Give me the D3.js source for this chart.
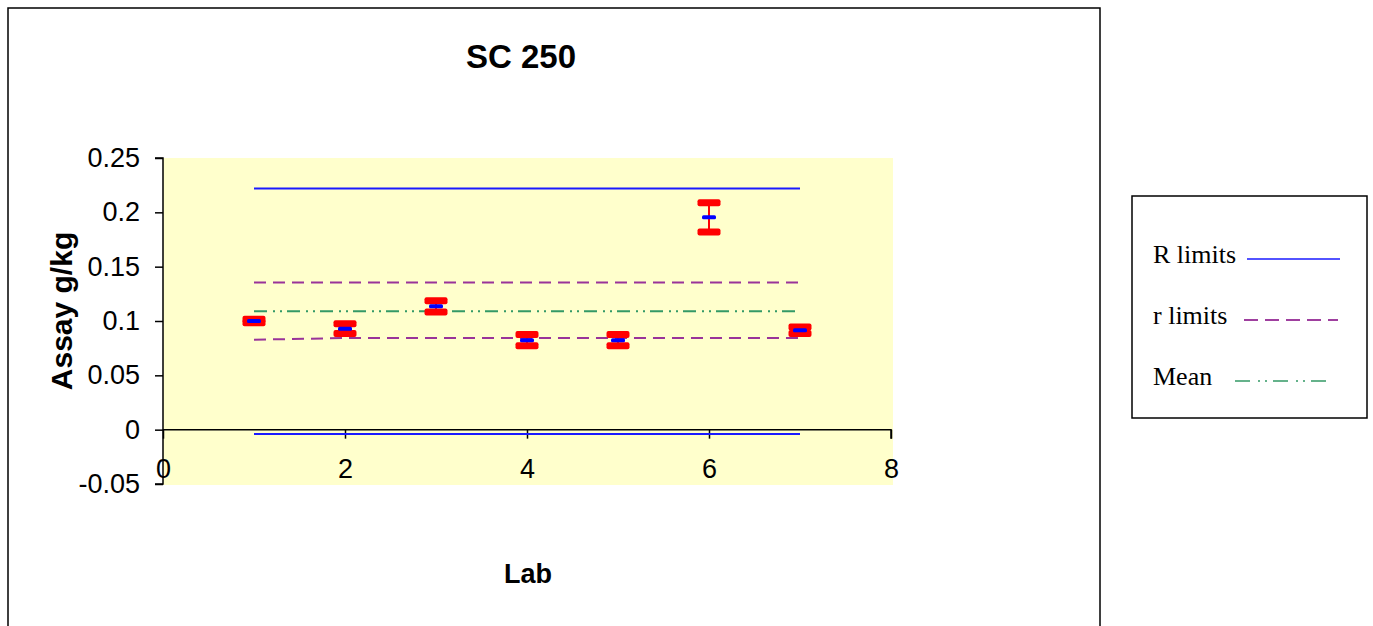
<!DOCTYPE html>
<html>
<head>
<meta charset="utf-8">
<script src="https://cdn.jsdelivr.net/npm/d3@7"></script>
<style>
  body { margin: 0; background: #fff; }
  svg { display: block; }
</style>
</head>
<body>
<div id="chart"></div>
<script>
// data
var labs = [1, 2, 3, 4, 5, 6, 7];
var assayMean = [0.1000, 0.0929, 0.1135, 0.0824, 0.0824, 0.1954, 0.0914];
var assayErr = [0.0015, 0.0045, 0.0052, 0.0051, 0.0051, 0.0134, 0.0030];
var RUpper = [0.222, 0.222, 0.222, 0.222, 0.222, 0.222, 0.222];
var RLower = [-0.004, -0.004, -0.004, -0.004, -0.004, -0.004, -0.004];
var rUpper = [0.1355, 0.1355, 0.1355, 0.1355, 0.1355, 0.1355, 0.1355];
var rLower = [0.0828, 0.0843, 0.0843, 0.0843, 0.0843, 0.0843, 0.0843];
var meanLine = [0.109, 0.109, 0.109, 0.109, 0.109, 0.109, 0.109];
var xTicks = [0, 2, 4, 6, 8];
var yTicks = [-0.05, 0, 0.05, 0.1, 0.15, 0.2, 0.25];
var yTickLabels = ["-0.05", "0", "0.05", "0.1", "0.15", "0.2", "0.25"];
var legendItems = ["R limits", "r limits", "Mean"];

var W = 1373, H = 626;
var svg = d3.select("#chart").append("svg")
            .attr("width", W)
            .attr("height", H);

// chart frame
svg.append("rect")
   .attr("x", 8).attr("y", 8)
   .attr("width", 1092).attr("height", 640)
   .attr("fill", "#fff")
   .attr("stroke", "#000")
   .attr("stroke-width", 1.5);

var x = d3.scaleLinear().domain([0, 8]).range([163, 891]);
var y = d3.scaleLinear().domain([-0.05, 0.25]).range([484, 158]);

// plot area
svg.append("rect")
   .attr("x", x(0)).attr("y", y(0.25))
   .attr("width", x(8) - x(0) + 2)
   .attr("height", y(-0.05) - y(0.25) + 1)
   .attr("fill", "#ffffcc");

// y axis
var yAxis = svg.append("g")
   .attr("transform", "translate(" + x(0) + ",0)")
   .call(d3.axisLeft(y).tickValues(yTicks).tickSize(8).tickPadding(15)
           .tickFormat(function (d, i) { return yTickLabels[i]; }));

// x axis at y = 0
var xAxis = svg.append("g")
   .attr("transform", "translate(0," + y(0) + ")")
   .call(d3.axisBottom(x).tickValues(xTicks).tickSize(9).tickFormat(d3.format("d")));

[yAxis, xAxis].forEach(function (g) {
  g.select(".domain").attr("stroke", "#000").attr("stroke-width", 1.5);
  g.selectAll(".tick line").attr("stroke", "#000").attr("stroke-width", 1.5);
  g.selectAll(".tick text")
   .attr("font-family", "Liberation Sans, Arial, sans-serif")
   .attr("font-size", "27px")
   .attr("fill", "#000");
});
yAxis.select(".domain").attr("d", "M-8," + y(0.25) + "H0V" + y(-0.05) + "H-8");
xAxis.select(".domain").attr("d", "M" + x(0) + ",0H" + x(8) + "V9");
xAxis.selectAll(".tick text").attr("y", 29).attr("dy", "0.71em");

// reference lines
function refLine(vals, color, dash) {
  var line = d3.line()
               .x(function (d, i) { return x(labs[i]); })
               .y(function (d) { return y(d); });
  svg.append("path")
     .datum(vals)
     .attr("d", line)
     .attr("fill", "none")
     .attr("stroke", color)
     .attr("stroke-width", 2)
     .attr("stroke-dasharray", dash);
}
refLine(RUpper, "#1a1aff", null);
refLine(RLower, "#1a1aff", null);
refLine(rUpper, "#993399", "12,7");
refLine(rLower, "#993399", "12,7");
refLine(meanLine, "#339966", "13,6,2,5,2,5");

// error bars
var bars = svg.selectAll("g.bar")
   .data(labs)
   .enter()
   .append("g")
   .attr("class", "bar");

bars.append("line")
   .attr("x1", function (d) { return x(d); })
   .attr("x2", function (d) { return x(d); })
   .attr("y1", function (d, i) { return y(assayMean[i] + assayErr[i]); })
   .attr("y2", function (d, i) { return y(assayMean[i] - assayErr[i]); })
   .attr("stroke", "#ff0000")
   .attr("stroke-width", 2);

[1, -1].forEach(function (s) {
  bars.append("rect")
     .attr("x", function (d) { return x(d) - 11.5; })
     .attr("y", function (d, i) { return y(assayMean[i] + s * assayErr[i]) - 3.5; })
     .attr("width", 23)
     .attr("height", 7)
     .attr("rx", 2)
     .attr("fill", "#ff0000");
});

bars.append("rect")
   .attr("x", function (d) { return x(d) - 7; })
   .attr("y", function (d, i) { return y(assayMean[i]) - 2; })
   .attr("width", 14)
   .attr("height", 4)
   .attr("rx", 1.5)
   .attr("fill", "#0000ff");

// titles
svg.append("text")
   .attr("x", 521).attr("y", 68)
   .attr("text-anchor", "middle")
   .attr("font-family", "Liberation Sans, Arial, sans-serif")
   .attr("font-weight", "bold")
   .attr("font-size", "33px")
   .text("SC 250");

svg.append("text")
   .attr("x", 528).attr("y", 583)
   .attr("text-anchor", "middle")
   .attr("font-family", "Liberation Sans, Arial, sans-serif")
   .attr("font-weight", "bold")
   .attr("font-size", "27px")
   .text("Lab");

svg.append("text")
   .attr("transform", "translate(72,311) rotate(-90)")
   .attr("text-anchor", "middle")
   .attr("font-family", "Liberation Sans, Arial, sans-serif")
   .attr("font-weight", "bold")
   .attr("font-size", "30px")
   .text("Assay g/kg");

// legend
var legend = svg.append("g");
legend.append("rect")
   .attr("x", 1132).attr("y", 196)
   .attr("width", 235).attr("height", 222)
   .attr("fill", "#fff")
   .attr("stroke", "#000")
   .attr("stroke-width", 1.5);

var legendStyle = [
  {color: "#1a1aff", dash: null, x1: 1247, x2: 1340},
  {color: "#800080", dash: "14,7", x1: 1244, x2: 1338},
  {color: "#339966", dash: "15,8,2,5,2,6", x1: 1235, x2: 1326}
];

legendItems.forEach(function (name, i) {
  var yy = 263 + i * 61;
  legend.append("text")
     .attr("x", 1153).attr("y", yy)
     .attr("font-family", "Liberation Serif, Times New Roman, serif")
     .attr("font-size", "26px")
     .attr("fill", "#000")
     .text(name);
  legend.append("line")
     .attr("x1", legendStyle[i].x1).attr("x2", legendStyle[i].x2)
     .attr("y1", yy - 4).attr("y2", yy - 4)
     .attr("stroke", legendStyle[i].color)
     .attr("stroke-width", 1.5)
     .attr("stroke-dasharray", legendStyle[i].dash);
});
</script>
</body>
</html>
